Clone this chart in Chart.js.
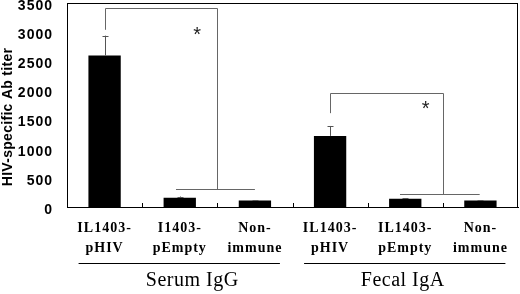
<!DOCTYPE html>
<html><head><meta charset="utf-8">
<script src="https://cdn.jsdelivr.net/npm/chart.js@4/dist/chart.umd.min.js"></script>
<style>html,body{margin:0;padding:0;background:#fff}#wrap{width:520px;height:294px}</style>
</head><body><div id="wrap"><canvas id="c" width="520" height="294"></canvas></div>
<script>
const categories = [["IL1403-","pHIV"],["I1403-","pEmpty"],["Non-","immune"],["IL1403-","pHIV"],["IL1403-","pEmpty"],["Non-","immune"]];
const titerValues = [2600, 160, 110, 1220, 140, 110];
const errorUp = [340, 20, 10, 170, 12, 10];
const groupLabels = ["Serum IgG", "Fecal IgA"];
const groupRanges = [[0, 2], [3, 5]];
const yTitle = "HIV-specific Ab titer";
const yMax = 3500, yStep = 500;
// significance brackets (category index / data units)
const brackets = [
  {l: 0, r: 1.5, top: 3420, lBot: 3040, rBot: 310, baseFrom: 0.95, baseTo: 2.0, starX: 1.23, starY: 3030},
  {l: 3, r: 4.5, top: 1960, lBot: 1610, rBot: 225, baseFrom: 3.93, baseTo: 4.99, starX: 4.27, starY: 1770}
];

const deco = {
  id: 'deco',
  beforeDraw(chart) { chart.ctx.letterSpacing = '1px'; },
  beforeDatasetsDraw(chart) { chart.ctx.letterSpacing = '0px'; },
  afterDatasetsDraw(chart) {
    const {ctx, chartArea: a, scales: {x, y}} = chart;
    const catW = (a.right - a.left) / categories.length;
    const px = i => a.left + (i + 0.5) * catW;
    ctx.save();
    ctx.letterSpacing = '0px';
    ctx.strokeStyle = '#000'; ctx.lineWidth = 1;
    ctx.strokeRect(a.left + 0.5, a.top + 0.5, a.right - a.left - 1, a.bottom - a.top);
    ctx.beginPath();
    for (let i = 1; i < categories.length; i++) {
      const xx = Math.round(a.left + i * catW) + 0.5;
      ctx.moveTo(xx, a.bottom); ctx.lineTo(xx, a.bottom - 4);
    }
    ctx.stroke();
    // y tick labels (from the scale's own ticks)
    ctx.fillStyle = '#000';
    ctx.letterSpacing = '1px';
    ctx.font = 'bold 14px "Liberation Sans", Arial, sans-serif';
    ctx.textAlign = 'right'; ctx.textBaseline = 'middle';
    y.ticks.forEach(t => ctx.fillText(String(t.value), a.left - 14, y.getPixelForValue(t.value) + 3));
    ctx.letterSpacing = '0px';
    // error bars
    ctx.strokeStyle = '#555';
    const meta = chart.getDatasetMeta(0);
    meta.data.forEach((bar, i) => {
      const xx = Math.round(bar.x) + 0.5;
      const y0 = y.getPixelForValue(titerValues[i]);
      const y1 = y.getPixelForValue(titerValues[i] + errorUp[i]);
      ctx.beginPath();
      ctx.moveTo(xx, y0); ctx.lineTo(xx, y1);
      ctx.moveTo(xx - 3, Math.round(y1) + 0.5); ctx.lineTo(xx + 3, Math.round(y1) + 0.5);
      ctx.stroke();
    });
    // brackets
    ctx.strokeStyle = '#666';
    brackets.forEach(b => {
      const yt = Math.round(y.getPixelForValue(b.top)) + 0.5;
      const xl = Math.round(px(b.l)) + 0.5, xr = Math.round(px(b.r)) + 0.5;
      const yb = Math.round(y.getPixelForValue(b.rBot)) + 0.5;
      ctx.beginPath();
      ctx.moveTo(xl, y.getPixelForValue(b.lBot)); ctx.lineTo(xl, yt); ctx.lineTo(xr, yt); ctx.lineTo(xr, yb);
      ctx.moveTo(px(b.baseFrom), yb); ctx.lineTo(px(b.baseTo), yb);
      ctx.stroke();
      ctx.fillStyle = '#222';
      ctx.font = '20px "Liberation Sans", Arial, sans-serif';
      ctx.textAlign = 'center'; ctx.textBaseline = 'alphabetic';
      ctx.fillText('*', px(b.starX), y.getPixelForValue(b.starY) + 11);
    });
    // group underlines and labels
    ctx.strokeStyle = '#000'; ctx.fillStyle = '#000';
    ctx.letterSpacing = '0.5px';
    ctx.font = '20px "Liberation Serif", "Times New Roman", serif';
    ctx.textAlign = 'center'; ctx.textBaseline = 'middle';
    const labelShift = [13, -2];
    groupRanges.forEach((g, k) => {
      const x0 = px(g[0]) - 26, x1 = px(g[1]) + 25;
      ctx.beginPath(); ctx.moveTo(x0, 263.5); ctx.lineTo(x1, 263.5); ctx.stroke();
      ctx.fillText(groupLabels[k], (x0 + x1) / 2 + labelShift[k], 281);
    });
    // y title
    ctx.letterSpacing = '0.3px';
    ctx.font = 'bold 14px "Liberation Sans", Arial, sans-serif';
    ctx.translate(8, 117);
    ctx.rotate(-Math.PI / 2);
    ctx.fillText(yTitle, 0, 0);
    ctx.restore();
  }
};

new Chart(document.getElementById('c'), {
  type: 'bar',
  data: {
    labels: categories,
    datasets: [{data: titerValues, backgroundColor: '#000', borderWidth: 0,
      categoryPercentage: 1.0, barPercentage: 0.43}]
  },
  options: {
    responsive: false, animation: false,
    layout: {padding: {top: 3, right: 2, left: 0, bottom: 0}},
    plugins: {legend: {display: false}, tooltip: {enabled: false}},
    scales: {
      x: {
        grid: {display: false, drawTicks: false},
        border: {display: true, color: '#000'},
        ticks: {color: '#000', padding: 11, font: {family: '"Liberation Serif", "Times New Roman", serif', size: 14, weight: 'bold', lineHeight: 1.45}, maxRotation: 0, autoSkip: false},
        afterFit(s) { s.height = 87; s.paddingLeft = 0; s.paddingRight = 0; }
      },
      y: {
        min: 0, max: yMax,
        grid: {display: false, drawTicks: false},
        border: {display: true, color: '#000'},
        ticks: {stepSize: yStep, display: false},
        afterFit(s) { s.width = 67; s.paddingTop = 0; s.paddingBottom = 0; }
      }
    }
  },
  plugins: [deco]
});
</script></body></html>
